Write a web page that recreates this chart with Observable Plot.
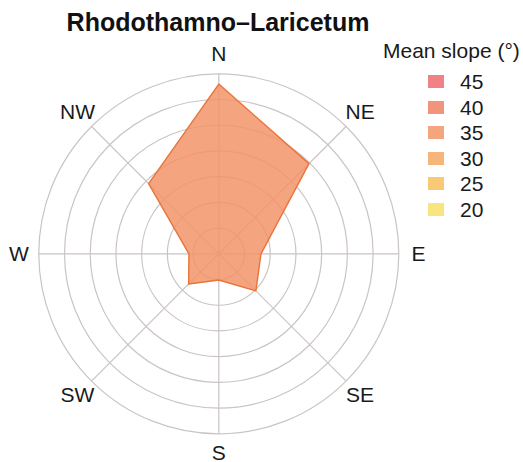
<!DOCTYPE html>
<html><head><meta charset="utf-8">
<script src="https://cdn.jsdelivr.net/npm/d3@7"></script>
<script src="https://cdn.jsdelivr.net/npm/@observablehq/plot@0.6"></script>
<style>
body{margin:0;background:#fff;font-family:"Liberation Sans",Arial,sans-serif;color:#1a1a1a;}
#wrap{position:relative;width:523px;height:462px;overflow:hidden;background:#fff;}
#chart{position:absolute;left:0;top:0;}
#title{position:absolute;left:0;width:436px;text-align:center;top:8px;font-weight:bold;font-size:25px;color:#111;white-space:nowrap;}
#legend{position:absolute;left:383px;top:38px;white-space:nowrap;}
#legend .lt{font-size:21px;line-height:25px;}
#legend .row{position:absolute;left:0;height:26px;}
#legend .sw{position:absolute;left:45px;top:6px;width:16px;height:13px;opacity:0.85;}
#legend .lab{position:absolute;left:77px;top:0px;font-size:21px;line-height:25px;}
</style>
</head><body>
<div id="wrap">
  <div id="chart"></div>
  <div id="title">Rhodothamno–Laricetum</div>
  <div id="legend"></div>
</div>
<script>
const directions = ["N", "NE", "E", "SE", "S", "SW", "W", "NW"];
const frequency = [33, 24.8, 8.2, 10.2, 5.1, 8.3, 5.8, 19.3];
const ringValues = [5, 10, 15, 20, 25, 30, 35];
const slopeClasses = [45, 40, 35, 30, 25, 20];
const slopeColors = ["#EE6B6E", "#F08065", "#F29468", "#F5A864", "#F8C060", "#F8E068"];
const meanSlope = 35;
const titleText = "Rhodothamno–Laricetum";
const legendTitle = "Mean slope (°)";

const maxR = d3.max(ringValues);
const labelR = maxR * 1.11;
const records = directions.map((d, i) => {
  const a = i * 45 * Math.PI / 180;
  return {dir: d, sin: Math.sin(a), cos: Math.cos(a), value: frequency[i], slope: meanSlope};
});

const grid = "#cbc4c4";
const plot = Plot.plot({
  width: 523,
  height: 462,
  margin: 0,
  style: {fontFamily: "'Liberation Sans', Arial, sans-serif", background: "transparent"},
  x: {domain: [-maxR, maxR], range: [38.3, 398.3], axis: null},
  y: {domain: [-maxR, maxR], range: [433.3, 73.3], axis: null},
  r: {type: "linear", domain: [0, maxR], range: [0, 180]},
  color: {type: "ordinal", domain: slopeClasses, range: slopeColors},
  marks: [
    Plot.dot(ringValues, {x: () => 0, y: () => 0, r: d => d, stroke: grid, strokeWidth: 1.2, fill: "none"}),
    Plot.link(records, {x1: () => 0, y1: () => 0, x2: d => maxR * d.sin, y2: d => maxR * d.cos, stroke: grid, strokeWidth: 1.2}),
    Plot.line(records, {x: d => d.value * d.sin, y: d => d.value * d.cos, curve: "linear-closed",
      fill: d => d.slope, fillOpacity: 0.85, stroke: "#E8743A", strokeWidth: 1.4}),
    Plot.text(records, {x: d => labelR * d.sin, y: d => labelR * d.cos, text: "dir", fontSize: 21, fill: "#1a1a1a"})
  ]
});
document.getElementById("chart").appendChild(plot);
document.getElementById("title").textContent = titleText;

const leg = document.getElementById("legend");
const lt = document.createElement("div");
lt.className = "lt"; lt.textContent = legendTitle; leg.appendChild(lt);
slopeClasses.forEach((v, i) => {
  const row = document.createElement("div");
  row.className = "row";
  row.style.top = (31 + i * 25.6) + "px";
  const sw = document.createElement("div");
  sw.className = "sw"; sw.style.background = plot.scale("color").apply(v);
  const lab = document.createElement("div");
  lab.className = "lab"; lab.textContent = v;
  row.appendChild(sw); row.appendChild(lab); leg.appendChild(row);
});
</script>
</body></html>
